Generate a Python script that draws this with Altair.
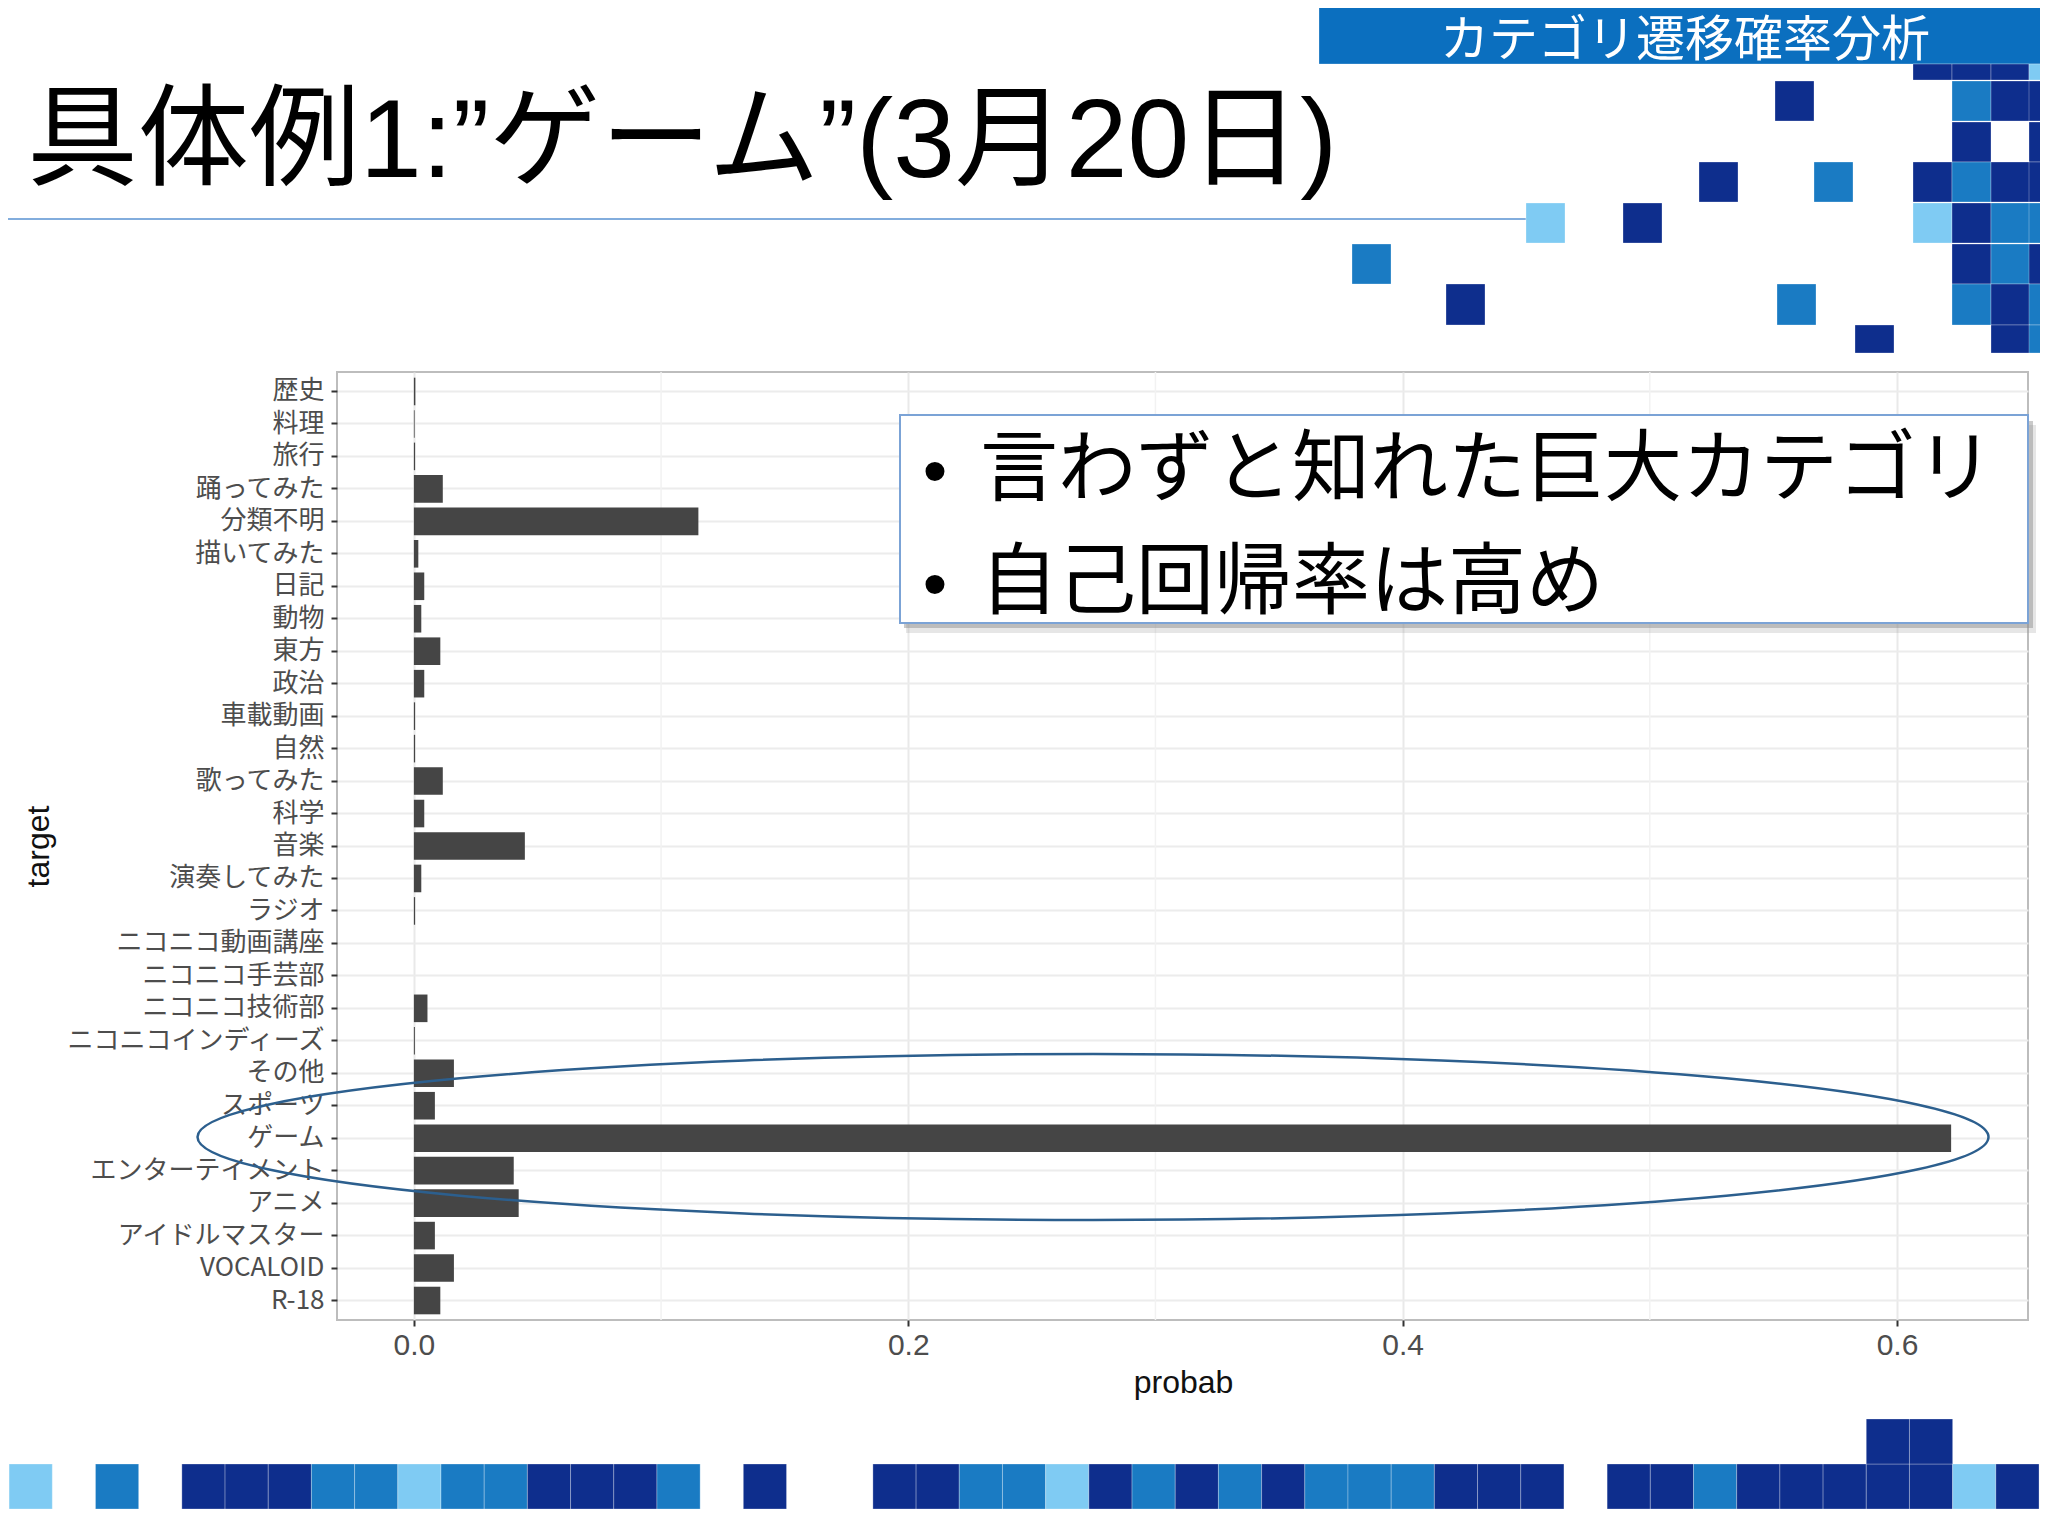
import altair as alt
import pandas as pd

# ---------------- chart data ----------------
categories = ["歴史", "料理", "旅行", "踊ってみた", "分類不明", "描いてみた", "日記", "動物",
              "東方", "政治", "車載動画", "自然", "歌ってみた", "科学", "音楽", "演奏してみた",
              "ラジオ", "ニコニコ動画講座", "ニコニコ手芸部", "ニコニコ技術部", "ニコニコインディーズ",
              "その他", "スポーツ", "ゲーム", "エンターテイメント", "アニメ", "アイドルマスター",
              "VOCALOID", "R-18"]
probab = [0.0006, 0.0003, 0.0005, 0.0117, 0.1151, 0.0018, 0.0042, 0.0030,
          0.0107, 0.0042, 0.0005, 0.0005, 0.0117, 0.0042, 0.0449, 0.0030,
          0.0005, 0.0, 0.0, 0.0055, 0.0004,
          0.0162, 0.0085, 0.6219, 0.0404, 0.0424, 0.0085,
          0.0162, 0.0107]
x_ticks = [0.0, 0.2, 0.4, 0.6]
x_minor = [0.1, 0.3, 0.5]
x_domain = [-0.0311, 0.6530]

title_text = "具体例1:”ゲーム”(3月20日)"
header_text = "カテゴリ遷移確率分析"
bullet_lines = ["言わずと知れた巨大カテゴリ", "自己回帰率は高め"]

# ---------------- slide layout (page pixels) ----------------
OX, OY = 337, 372          # plot-area origin on the page
PW, PH = 1691, 948         # plot-area size
NAVY, MID, LIGHT, HEAD = "#0E2E8D", "#1A7BC3", "#7FCBF3", "#0B6FBF"
cmap = {"N": NAVY, "M": MID, "L": LIGHT}

deco = [(1319, 0, 2048, 64, HEAD),
        (0, 218, 1526, 220, "#6FA0D8")]
# top-right squares
deco += [(1913, 64, 1952, 80, NAVY), (1952, 64, 1991, 80, NAVY),
         (1991, 64, 2029, 80, NAVY), (2029, 64, 2068, 80, LIGHT)]
top_rows = [
    (81, 121, [(1775, "N"), (1952, "M"), (1991, "N"), (2029, "N")]),
    (122, 162, [(1952, "N"), (2029, "N")]),
    (162, 202, [(1699, "N"), (1814, "M"), (1913, "N"), (1952, "M"), (1991, "N"), (2029, "N")]),
    (203, 243, [(1526, "L"), (1623, "N"), (1913, "L"), (1952, "N"), (1991, "M"), (2029, "M")]),
    (244, 284, [(1352, "M"), (1952, "N"), (1991, "M"), (2029, "N")]),
    (284, 325, [(1446, "N"), (1777, "M"), (1952, "M"), (1991, "N"), (2029, "M")]),
    (325, 353, [(1855, "N"), (1991, "N"), (2029, "M")]),
]
for y0, y1, cells in top_rows:
    for x0, c in cells:
        deco.append((x0, y0, x0 + 39, y1, cmap[c]))
# bottom strip
strip = "L_M_NNNMMLMMNNNM_N__NNMMLNMNMNMMMNNN_NNMNNNNNLN"
for k, c in enumerate(strip):
    if c != "_":
        x0 = 9.1 + 43.19 * k
        deco.append((x0, 1464, x0 + 43.19, 1509, cmap[c]))
for k in (43, 44):
    x0 = 9.1 + 43.19 * k
    deco.append((x0, 1419, x0 + 43.19, 1464, NAVY))

deco_df = pd.DataFrame(deco, columns=["x0", "y0", "x1", "y1", "c"])
deco_df["x0"] -= OX
deco_df["x1"] -= OX
deco_df["y0"] -= OY
deco_df["y1"] -= OY

one = pd.DataFrame({"k": [0]})

# ---------------- chart ----------------
df = pd.DataFrame({"target": categories, "probab": probab})
minor_df = pd.DataFrame({"v": x_minor})

xscale = alt.Scale(domain=x_domain, nice=False)
yscale = alt.Scale(domain=categories, paddingInner=0.15, paddingOuter=0.175)

minor = alt.Chart(minor_df).mark_rule(color="#f2f2f2", strokeWidth=1.5).encode(
    x=alt.X("v:Q", scale=xscale)
)

bars = alt.Chart(df).mark_bar(color="#454545").encode(
    x=alt.X("probab:Q", scale=xscale,
            axis=alt.Axis(values=x_ticks, format=".1f", title="probab",
                          labelFont="Liberation Sans", labelFontSize=30, labelColor="#4d4d4d",
                          tickColor="#333333", tickSize=6, tickWidth=2, labelPadding=4,
                          domain=False, grid=True, gridColor="#e9e9e9", gridWidth=2,
                          titleFont="Liberation Sans", titleFontSize=32, titleFontWeight="normal",
                          titleColor="#111111", titleX=846, titleY=72, titleAlign="center",
                          titleBaseline="alphabetic")),
    y=alt.Y("target:N", scale=yscale, sort=categories,
            axis=alt.Axis(title="target", labelFont="Noto Sans CJK JP", labelFontSize=26,
                          labelColor="#4d4d4d", labelLimit=0, tickColor="#333333", tickSize=6,
                          tickWidth=2, labelPadding=7, domain=False, grid=True,
                          gridColor="#ececec", gridWidth=2, titleFont="Liberation Sans",
                          titleFontSize=32, titleFontWeight="normal", titleColor="#111111",
                          titleX=-299, titleY=474, titleAlign="center",
                          titleBaseline="middle")),
)

rects = alt.Chart(deco_df).mark_rect(stroke="#ffffff", strokeWidth=0.8, strokeOpacity=0.35).encode(
    x=alt.X("x0:Q", scale=None, axis=None),
    x2="x1:Q",
    y=alt.Y("y0:Q", scale=None, axis=None),
    y2="y1:Q",
    color=alt.Color("c:N", scale=None, legend=None),
)


def vrect(x0, y0, x1, y1, **kw):
    return alt.Chart(one).mark_rect(**kw).encode(
        x=alt.value(x0 - OX), x2=alt.value(x1 - OX),
        y=alt.value(y0 - OY), y2=alt.value(y1 - OY))


def vtext(txt, x, y, **kw):
    return alt.Chart(one).mark_text(text=txt, baseline="alphabetic", **kw).encode(
        x=alt.value(x - OX), y=alt.value(y - OY))


shadow2 = vrect(906, 425, 2036, 633, fill="#9a9a9a", opacity=0.25)
shadow1 = vrect(904, 421, 2033, 628, fill="#8a8a8a", opacity=0.45)
box = vrect(900, 415, 2028, 623, fill="#ffffff", stroke="#7BA3D6", strokeWidth=2)

title = vtext(title_text, 27, 177, align="left", font="Liberation Sans, Noto Sans CJK JP",
              fontSize=111, color="#000000")
header = vtext(header_text, 1685, 56, align="center", font="Noto Sans CJK JP",
               fontSize=49, color="#ffffff")
b1 = vtext("•", 935, 495, align="center", font="Liberation Sans", fontSize=70, color="#000000")
b2 = vtext("•", 935, 608, align="center", font="Liberation Sans", fontSize=70, color="#000000")
t1 = vtext(bullet_lines[0], 980, 495, align="left", font="Noto Sans CJK JP", fontSize=78,
           color="#000000")
t2 = vtext(bullet_lines[1], 980, 608, align="left", font="Noto Sans CJK JP", fontSize=78,
           color="#000000")

# ellipse around the "ゲーム" row (rx 895, ry 83) drawn as a custom symbol
rx, ry = 895.5, 83.0
b = ry / rx
kk = 0.5523
kb = kk * b
ell_path = (f"M -1 0 C -1 {-kb:.5f} {-kk} {-b:.5f} 0 {-b:.5f} "
            f"C {kk} {-b:.5f} 1 {-kb:.5f} 1 0 "
            f"C 1 {kb:.5f} {kk} {b:.5f} 0 {b:.5f} "
            f"C {-kk} {b:.5f} -1 {kb:.5f} -1 0 Z")
ellipse = alt.Chart(one).mark_point(shape=ell_path, filled=False, stroke="#2C5F8E",
                                    strokeWidth=2.5, opacity=1,
                                    size=(2 * rx) ** 2).encode(
    x=alt.value(1093 - OX), y=alt.value(1137 - OY))

chart = alt.layer(minor, bars, rects, shadow2, shadow1, box, title, header, b1, b2, t1, t2,
                  ellipse).properties(
    width=PW, height=PH,
    autosize=alt.AutoSizeParams(type="none"),
    padding={"left": OX - 8, "top": OY - 8, "right": 2032 - (OX - 8) - PW,
             "bottom": 1520 - (OY - 8) - PH},
    background="#ffffff",
).configure_view(stroke="#bdbdbd", strokeWidth=2)

chart.save("out.html", embed_options={"renderer": "svg", "actions": False})
